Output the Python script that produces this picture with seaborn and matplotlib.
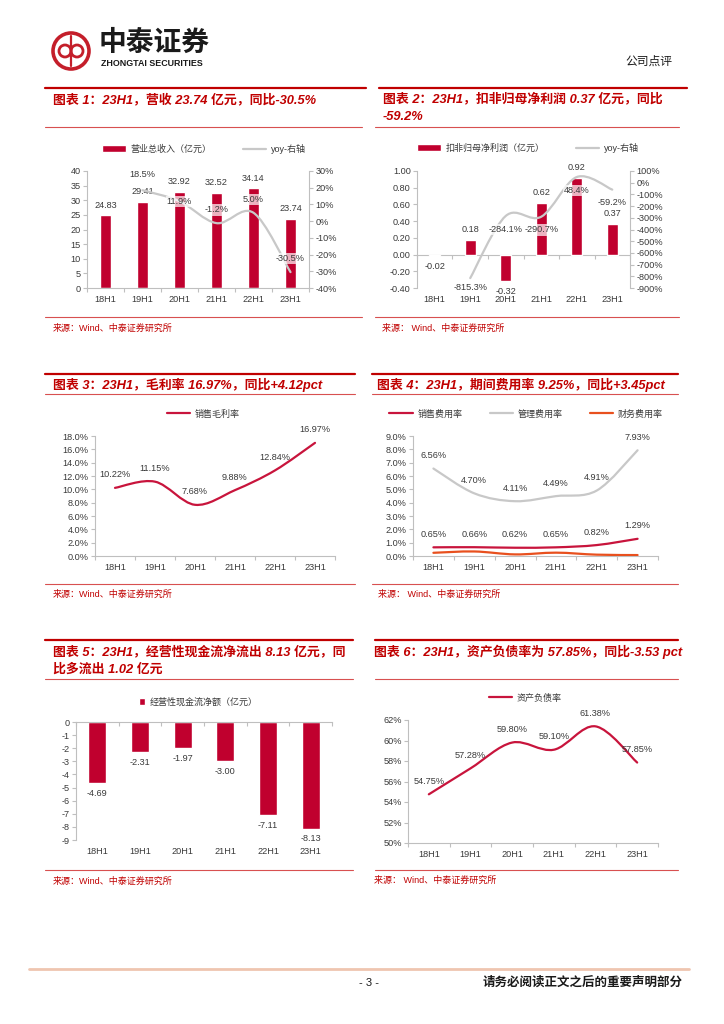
import numpy as np
import matplotlib
matplotlib.use("Agg")
import matplotlib.pyplot as plt
import seaborn as sns
from matplotlib.path import Path
from matplotlib.patches import PathPatch, Patch, Circle
from matplotlib.lines import Line2D
from matplotlib.ticker import FuncFormatter, MultipleLocator

# ---- data ----
periods = ["18H1", "19H1", "20H1", "21H1", "22H1", "23H1"]

revenue = [24.83, 29.41, 32.92, 32.52, 34.14, 23.74]          # 亿元
revenue_yoy = [np.nan, 18.5, 11.9, -1.2, 5.0, -30.5]           # %

np_deducted = [-0.02, 0.18, -0.32, 0.62, 0.92, 0.37]           # 亿元
np_deducted_yoy = [np.nan, -815.3, -284.1, -290.7, 48.4, -59.2]

gross_margin = [10.22, 11.15, 7.68, 9.88, 12.84, 16.97]

sales_exp_rate = [0.65, 0.66, 0.62, 0.65, 0.82, 1.29]
admin_exp_rate = [6.56, 4.70, 4.11, 4.49, 4.91, 7.93]
fin_exp_rate = [0.24, 0.34, 0.12, 0.25, 0.10, 0.07]           # no labels, estimated from the line

op_cashflow = [-4.69, -2.31, -1.97, -3.00, -7.11, -8.13]

debt_ratio = [54.75, 57.28, 59.80, 59.10, 61.38, 57.85]

# ---- style ----
RED = "#C0002E"
LINE_RED = "#C8143C"
GRAY = "#C8C8C8"
ORANGE = "#E8501E"
TITLE_RED = "#C00000"
SRC_RED = "#D85050"
TXT = "#3A3A3A"
AXC = "#BFBFBF"
W, H = 724, 1024
FS = 6.6        # ticks and data labels
LFS = 6.5       # legends

sns.set_theme(style="ticks")
plt.rcParams["font.family"] = ["Liberation Sans", "Noto Sans CJK SC", "DejaVu Sans"]
plt.rcParams["axes.unicode_minus"] = False

fig = plt.figure(figsize=(7.24, 10.24), dpi=100)


def fx(x):
    return x / W


def fy(y):
    return 1 - y / H


def hline(x1, x2, y, color, lw):
    fig.add_artist(Line2D([fx(x1), fx(x2)], [fy(y), fy(y)], color=color, lw=lw,
                          transform=fig.transFigure))


def ftext(x, y, s, **kw):
    fig.text(fx(x), fy(y), s, va="center", **kw)


def add_ax(l, t, r, b):
    return fig.add_axes([fx(l), fy(b), (r - l) / W, (b - t) / H])


def style_ax(ax, spines=("left", "bottom")):
    for s in ["left", "right", "top", "bottom"]:
        ax.spines[s].set_visible(s in spines)
        ax.spines[s].set_color(AXC)
        ax.spines[s].set_linewidth(0.8)
    ax.tick_params(axis="y", which="major", left=True, length=3, width=0.8, color=AXC,
                   labelsize=FS, labelcolor=TXT, pad=1.5)
    ax.set_xlim(-0.5, 5.5)
    ax.set_xticks(range(len(periods)))
    ax.set_xticklabels(periods)
    ax.set_xticks(np.arange(-0.5, len(periods), 1), minor=True)
    ax.tick_params(axis="x", which="major", length=0, labelsize=FS, labelcolor=TXT, pad=5)
    ax.tick_params(axis="x", which="minor", bottom=True, length=3, width=0.8, color=AXC,
                   direction="out")
    ax.set_xlabel("")
    ax.set_ylabel("")
    ax.grid(False)
    ax.patch.set_alpha(0)


def right_ax(ax, lo, hi, step, fmt):
    axb = ax.twinx()
    for s in ["left", "top", "bottom"]:
        axb.spines[s].set_visible(False)
    axb.spines["right"].set_color(AXC)
    axb.spines["right"].set_linewidth(0.8)
    axb.set_ylim(lo, hi)
    axb.yaxis.set_major_locator(MultipleLocator(step))
    axb.yaxis.set_major_formatter(FuncFormatter(fmt))
    axb.tick_params(axis="y", right=True, length=3, width=0.8, color=AXC,
                    labelsize=FS, labelcolor=TXT, pad=1.5)
    axb.grid(False)
    return axb


def smooth_line(ax, xs, ys, color, lw=1.6):
    # Excel style smoothed line: cubic bezier through the data points
    pts = np.column_stack([np.asarray(xs, float), np.asarray(ys, float)])
    n = len(pts)
    verts = [pts[0]]
    codes = [Path.MOVETO]
    for i in range(n - 1):
        p0 = pts[max(i - 1, 0)]
        p1 = pts[i]
        p2 = pts[i + 1]
        p3 = pts[min(i + 2, n - 1)]
        verts += [p1 + (p2 - p0) / 6, p2 - (p3 - p1) / 6, p2]
        codes += [Path.CURVE4] * 3
    ax.add_patch(PathPatch(Path(verts, codes), fill=False, ec=color, lw=lw,
                           capstyle="round", zorder=3))


def labels(ax, xs, ys, texts, dys, bbox=None):
    if np.isscalar(dys):
        dys = [dys] * len(xs)
    for x, y, t, d in zip(xs, ys, texts, dys):
        ax.annotate(t, (x, y), xytext=(0, d), textcoords="offset points", ha="center",
                    va="center", fontsize=FS, color=TXT, bbox=bbox, zorder=5)


def legend(handles, names, x, y, ncol=1, **kw):
    fig.legend(handles, names, loc="center", bbox_to_anchor=(fx(x), fy(y)),
               bbox_transform=fig.transFigure, ncol=ncol, frameon=False, fontsize=LFS,
               labelcolor=TXT, handletextpad=0.5, **kw)


pct0 = lambda v, _: f"{v:.0f}%"
pct1 = lambda v, _: f"{v:.1f}%"
pink_box = dict(boxstyle="square,pad=0.12", fc="white", ec="none", alpha=0.7)
xi = np.arange(len(periods))

# ---- page header / footer ----
logo = add_ax(51, 31, 91, 71)
logo.set_xlim(-1, 1)
logo.set_ylim(-1, 1)
logo.set_aspect("equal")
logo.axis("off")
logo.add_patch(Circle((0, 0), 0.9, fill=False, ec="#C41E2A", lw=2.6))
logo.add_patch(Circle((-0.3, 0), 0.3, fill=False, ec="#C41E2A", lw=2.0))
logo.add_patch(Circle((0.3, 0), 0.3, fill=False, ec="#C41E2A", lw=2.0))
logo.plot([0, 0], [-0.75, 0.75], color="#C41E2A", lw=1.6)
ftext(99, 44, "中泰证券", fontsize=20, fontweight="bold", color="#1A1A1A")
ftext(101, 63, "ZHONGTAI SECURITIES", fontsize=6.4, fontweight="bold", color="#1A1A1A")
ftext(625, 62, "公司点评", fontsize=8.5, color="#1A1A1A")
hline(45, 366, 88, TITLE_RED, 1.6)
hline(379, 687, 88, TITLE_RED, 1.6)

hline(29, 689, 969, "#EFC5B0", 2)
ftext(369, 983, "- 3 -", fontsize=8, ha="center", color="#1A1A1A")
ftext(683, 983, "请务必阅读正文之后的重要声明部分", fontsize=9, ha="right",
      fontweight="bold", color="#1A1A1A")

TKW = dict(fontsize=9.3, fontweight="bold", color=TITLE_RED, style="italic")
SKW = dict(fontsize=6.5, color=TITLE_RED)

# ---- chart 1: revenue ----
ftext(53, 100, "图表 1：23H1，营收 23.74 亿元，同比-30.5%", **TKW)
hline(45, 362, 127, SRC_RED, 0.8)
hline(45, 362, 317, SRC_RED, 0.8)
ftext(53, 328, "来源：Wind、中泰证券研究所", **SKW)

ax1 = add_ax(87, 171, 309, 288)
sns.barplot(x=periods, y=revenue, color=RED, saturation=1, width=0.32, ax=ax1)
style_ax(ax1, ("left", "bottom"))
ax1.set_ylim(0, 40)
ax1.yaxis.set_major_locator(MultipleLocator(5))
labels(ax1, xi, revenue, [f"{v:.2f}" for v in revenue], 7.2)
ax1b = right_ax(ax1, -40, 30, 10, pct0)
yy = np.array(revenue_yoy)
m = ~np.isnan(yy)
smooth_line(ax1b, xi[m], yy[m], GRAY, 1.6)
labels(ax1b, xi[m], yy[m], [f"{v:.1f}%" for v in yy[m]], [11, 0, 9.5, 9.5, 10], pink_box)
legend([Patch(fc=RED), Line2D([], [], color=GRAY, lw=1.6)],
       ["营业总收入（亿元）", "yoy-右轴"], 204, 149, ncol=2,
       handlelength=2.6, handleheight=0.8, columnspacing=3.5)

# ---- chart 2: deducted net profit ----
ftext(383, 99, "图表 2：23H1，扣非归母净利润 0.37 亿元，同比", **TKW)
ftext(383, 117, "-59.2%", **TKW)
hline(375, 679, 127, SRC_RED, 0.8)
hline(375, 679, 317, SRC_RED, 0.8)
ftext(382, 328, "来源： Wind、中泰证券研究所", **SKW)

ax2 = add_ax(417, 171, 630, 288)
sns.barplot(x=periods, y=np_deducted, color=RED, saturation=1, width=0.31, ax=ax2)
style_ax(ax2, ("left",))
ax2.tick_params(axis="x", which="minor", bottom=False)
ax2.set_ylim(-0.4, 1.0)
ax2.yaxis.set_major_locator(MultipleLocator(0.2))
ax2.yaxis.set_major_formatter(FuncFormatter(lambda v, _: f"{v:.2f}"))
zero = ax2.secondary_xaxis(0.4 / 1.4)
zero.set_xticks(np.arange(-0.5, len(periods), 1), labels=[""] * (len(periods) + 1))
zero.tick_params(length=3, width=0.8, color=AXC, direction="out")
for s in zero.spines.values():
    s.set_color(AXC)
    s.set_linewidth(0.8)
labels(ax2, xi, np_deducted, [f"{v:.2f}" for v in np_deducted],
       [7.2 if v > 0 else -7.5 for v in np_deducted])
ax2b = right_ax(ax2, -900, 100, 100, pct0)
yy = np.array(np_deducted_yoy)
m = ~np.isnan(yy)
smooth_line(ax2b, xi[m], yy[m], GRAY, 1.6)
labels(ax2b, xi[m], yy[m], [f"{v:.1f}%" for v in yy[m]], [-7, -9.5, -9.5, -9.5, -9.5], pink_box)
legend([Patch(fc=RED), Line2D([], [], color=GRAY, lw=1.6)],
       ["扣非归母净利润（亿元）", "yoy-右轴"], 528, 148, ncol=2,
       handlelength=2.6, handleheight=0.8, columnspacing=3.5)

# ---- chart 3: gross margin ----
hline(45, 355, 374, TITLE_RED, 1.6)
ftext(53, 385, "图表 3：23H1，毛利率 16.97%，同比+4.12pct", **TKW)
hline(45, 355, 394, SRC_RED, 0.8)
hline(45, 355, 584, SRC_RED, 0.8)
ftext(53, 594, "来源：Wind、中泰证券研究所", **SKW)

ax3 = add_ax(95, 436, 335, 556)
style_ax(ax3, ("left", "bottom"))
ax3.set_ylim(0, 18)
ax3.yaxis.set_major_locator(MultipleLocator(2))
ax3.yaxis.set_major_formatter(FuncFormatter(pct1))
smooth_line(ax3, xi, gross_margin, LINE_RED, 1.6)
labels(ax3, xi, gross_margin, [f"{v:.2f}%" for v in gross_margin], 9.4)
legend([Line2D([], [], color=LINE_RED, lw=1.6)], ["销售毛利率"], 203, 414,
       handlelength=2.6)

# ---- chart 4: expense ratios ----
hline(372, 678, 374, TITLE_RED, 1.6)
ftext(377, 385, "图表 4：23H1，期间费用率 9.25%，同比+3.45pct", **TKW)
hline(372, 678, 394, SRC_RED, 0.8)
hline(372, 678, 584, SRC_RED, 0.8)
ftext(378, 594, "来源： Wind、中泰证券研究所", **SKW)

ax4 = add_ax(413, 436, 658, 556)
style_ax(ax4, ("left", "bottom"))
ax4.set_ylim(0, 9)
ax4.yaxis.set_major_locator(MultipleLocator(1))
ax4.yaxis.set_major_formatter(FuncFormatter(pct1))
smooth_line(ax4, xi, admin_exp_rate, GRAY, 1.6)
smooth_line(ax4, xi, fin_exp_rate, ORANGE, 1.6)
smooth_line(ax4, xi, sales_exp_rate, LINE_RED, 1.6)
labels(ax4, xi, admin_exp_rate, [f"{v:.2f}%" for v in admin_exp_rate], 9.4)
labels(ax4, xi, sales_exp_rate, [f"{v:.2f}%" for v in sales_exp_rate], 9.4)
legend([Line2D([], [], color=c, lw=1.6) for c in (LINE_RED, GRAY, ORANGE)],
       ["销售费用率", "管理费用率", "财务费用率"], 526, 414, ncol=3,
       handlelength=2.6, columnspacing=3.0)

# ---- chart 5: operating cash flow ----
hline(45, 353, 640, TITLE_RED, 1.6)
ftext(53, 652, "图表 5：23H1，经营性现金流净流出 8.13 亿元，同", **TKW)
ftext(53, 670, "比多流出 1.02 亿元", **TKW)
hline(45, 353, 679, SRC_RED, 0.8)
hline(45, 353, 870, SRC_RED, 0.8)
ftext(53, 881, "来源：Wind、中泰证券研究所", **SKW)

ax5 = add_ax(76, 722, 332, 840)
sns.barplot(x=periods, y=op_cashflow, color=RED, saturation=1, width=0.42, ax=ax5)
style_ax(ax5, ("left", "top"))
ax5.tick_params(axis="x", which="minor", bottom=False, top=True, direction="in")
ax5.set_ylim(-9, 0)
ax5.yaxis.set_major_locator(MultipleLocator(1))
ax5.yaxis.set_major_formatter(FuncFormatter(lambda v, _: f"{v:.0f}"))
labels(ax5, xi, op_cashflow, [f"{v:.2f}" for v in op_cashflow], -7.4)
legend([Patch(fc=RED)], ["经营性现金流净额（亿元）"], 198, 702,
       handlelength=0.7, handleheight=0.7)

# ---- chart 6: debt ratio ----
hline(375, 678, 640, TITLE_RED, 1.6)
ftext(374, 652, "图表 6：23H1，资产负债率为 57.85%，同比-3.53 pct", **TKW)
hline(375, 678, 679, SRC_RED, 0.8)
hline(375, 678, 870, SRC_RED, 0.8)
ftext(374, 880, "来源： Wind、中泰证券研究所", **SKW)

ax6 = add_ax(408, 720, 658, 843)
style_ax(ax6, ("left", "bottom"))
ax6.set_ylim(50, 62)
ax6.yaxis.set_major_locator(MultipleLocator(2))
ax6.yaxis.set_major_formatter(FuncFormatter(pct0))
smooth_line(ax6, xi, debt_ratio, LINE_RED, 1.6)
labels(ax6, xi, debt_ratio, [f"{v:.2f}%" for v in debt_ratio], 9.4)
legend([Line2D([], [], color=LINE_RED, lw=1.6)], ["资产负债率"], 525, 698,
       handlelength=2.6)

fig.savefig("out.png", dpi=100, facecolor="white")
